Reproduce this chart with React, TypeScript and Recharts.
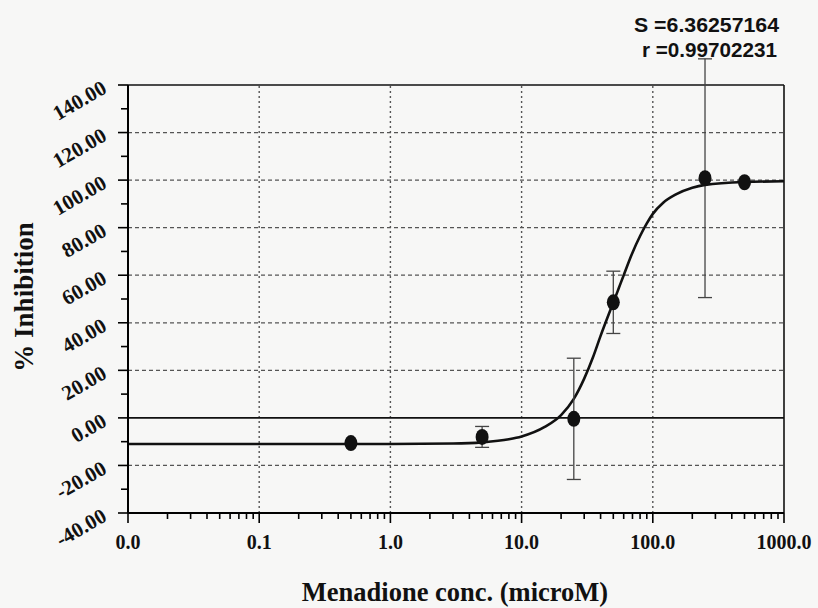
import React from 'react';
import { ComposedChart, XAxis, YAxis, Line, Scatter, ReferenceLine } from 'recharts';

// Measured points (concentration in microM, % inhibition, +/- error)
const concentrations = [0.5, 5, 25, 50, 250, 500];
const inhibition = [-10.6, -8.0, -0.4, 48.6, 100.8, 99.1];
const inhibitionErr = [0, 4.4, 25.5, 13.1, 50.2, 0];

// Fitted curve
const curveConc = [0.01, 0.1, 1, 3, 5, 8, 10, 15, 20, 25, 30, 35, 40, 45, 50, 55, 60, 70, 80, 90, 100, 120, 150, 200, 250, 500, 1000];
const curveInhibition = [-11, -11, -11, -10.8, -10.3, -9, -7.8, -3.8, 1.2, 8, 16.5, 25.5, 34.5, 42, 48.5, 54.5, 60, 69.5, 76.5, 81.8, 85.8, 90.5, 94, 96.8, 98, 99.2, 99.5];

// Axis ticks
const xMajorTicks = [0.01, 0.1, 1, 10, 100, 1000];
const xTickLabels = ['0.0', '0.1', '1.0', '10.0', '100.0', '1000.0'];
const xMinorMultipliers = [2, 3, 4, 5, 6, 7, 8, 9];
const xGridTicks = [0.1, 1, 10, 100];
const yMajorTicks = [-40, -20, 0, 20, 40, 60, 80, 100, 120, 140];
const yMinorTicks = [-30, -10, 10, 30, 50, 70, 90, 110, 130];
const yGridTicks = [-20, 20, 40, 60, 80, 100, 120];

const statS = 'S =6.36257164';
const statR = 'r =0.99702231';

const points = concentrations.map((x, i) => ({ x, y: inhibition[i], err: inhibitionErr[i] }));
const curve = curveConc.map((x, i) => ({ x, y: curveInhibition[i] }));
const xMinorTicks = xMajorTicks.slice(0, -1).flatMap((d) => xMinorMultipliers.map((m) => d * m));
const xTicks = [...xMajorTicks, ...xMinorTicks].sort((a, b) => a - b);
const yTicks = [...yMajorTicks, ...yMinorTicks].sort((a, b) => a - b);

const SERIF = '"Liberation Serif", "Times New Roman", serif';
const SANS = '"Liberation Sans", Arial, sans-serif';

const XTick = (props: any) => {
  const { x, y, payload } = props;
  const idx = xMajorTicks.indexOf(payload.value);
  const major = idx >= 0;
  return (
    <g>
      <line x1={x} x2={x} y1={y} y2={y + (major ? 10 : 6)} stroke="#000" strokeWidth={1.6} />
      {major && (
        <text x={x} y={y + 36} textAnchor="middle" fontFamily={SERIF} fontWeight="bold" fontSize={20} fill="#111">
          {xTickLabels[idx]}
        </text>
      )}
    </g>
  );
};

const YTick = (props: any) => {
  const { x, y, payload } = props;
  const v = payload.value;
  const major = yMajorTicks.indexOf(v) >= 0;
  const tx = x - 20;
  const ty = y + 7;
  return (
    <g>
      <line x1={x} x2={x - (major ? 10 : 7)} y1={y} y2={y} stroke="#000" strokeWidth={1.6} />
      {major && (
        <text
          x={tx}
          y={ty}
          textAnchor="end"
          transform={`rotate(-30, ${tx}, ${ty})`}
          fontFamily={SERIF}
          fontWeight="bold"
          fontSize={21}
          fill="#111"
        >
          {v.toFixed(2)}
        </text>
      )}
    </g>
  );
};

const ErrorBarShape = (props: any) => {
  const { x1, y1, x2, y2 } = props;
  return (
    <g>
      <line x1={x1} y1={y1} x2={x2} y2={y2} stroke="#444" strokeWidth={1.3} />
      <line x1={x1 - 7} x2={x1 + 7} y1={y1} y2={y1} stroke="#444" strokeWidth={1.3} />
      <line x1={x2 - 7} x2={x2 + 7} y1={y2} y2={y2} stroke="#444" strokeWidth={1.3} />
    </g>
  );
};

const Dot = (props: any) => {
  const { cx, cy } = props;
  return <ellipse cx={cx} cy={cy} rx={6.5} ry={8} fill="#111" />;
};

export default function App() {
  return (
    <div style={{ position: 'absolute', left: 0, top: 0, width: 818, height: 608, background: '#f7f7f6' }}>
      <ComposedChart width={818} height={608} margin={{ top: 85, right: 34, bottom: 35, left: 0 }}>
        <XAxis
          dataKey="x"
          type="number"
          scale="log"
          domain={[0.01, 1000]}
          allowDataOverflow
          ticks={xTicks}
          interval={0}
          tickLine={false}
          tickSize={0}
          tickMargin={0}
          tick={(p: any) => <XTick {...p} />}
          axisLine={{ stroke: '#000', strokeWidth: 2 }}
          height={60}
        />
        <YAxis
          type="number"
          domain={[-40, 140]}
          allowDataOverflow
          ticks={yTicks}
          interval={0}
          tickLine={false}
          tickSize={0}
          tickMargin={0}
          tick={(p: any) => <YTick {...p} />}
          axisLine={{ stroke: '#000', strokeWidth: 2 }}
          width={128}
        />
        {yGridTicks.map((v) => (
          <ReferenceLine key={'hy' + v} y={v} stroke="#555" strokeWidth={1.2} strokeDasharray="4 3" />
        ))}
        {xGridTicks.map((v) => (
          <ReferenceLine key={'vx' + v} x={v} stroke="#555" strokeWidth={1.4} strokeDasharray="2 3" />
        ))}
        <ReferenceLine y={0} stroke="#111" strokeWidth={1.8} />
        <ReferenceLine y={140} stroke="#111" strokeWidth={1.6} />
        <ReferenceLine x={1000} stroke="#111" strokeWidth={1.6} />
        <Line
          data={curve}
          dataKey="y"
          type="monotone"
          dot={false}
          stroke="#111"
          strokeWidth={2.6}
          isAnimationActive={false}
        />
        {points
          .filter((p) => p.err > 0)
          .map((p) => (
            <ReferenceLine
              key={'eb' + p.x}
              segment={[
                { x: p.x, y: p.y - p.err },
                { x: p.x, y: p.y + p.err },
              ]}
              ifOverflow="visible"
              shape={ErrorBarShape}
            />
          ))}
        <Scatter data={points} dataKey="y" shape={Dot} isAnimationActive={false} />
      </ComposedChart>
      <svg width={818} height={608} style={{ position: 'absolute', left: 0, top: 0, pointerEvents: 'none' }}>
        <text
          x={634}
          y={32}
          fontFamily={SANS}
          fontWeight="bold"
          fontSize={20}
          textLength={145}
          lengthAdjust="spacingAndGlyphs"
          fill="#111"
        >
          {statS}
        </text>
        <text
          x={642}
          y={57}
          fontFamily={SANS}
          fontWeight="bold"
          fontSize={20}
          textLength={135}
          lengthAdjust="spacingAndGlyphs"
          fill="#111"
        >
          {statR}
        </text>
        <text
          x={33}
          y={297}
          transform="rotate(-90, 33, 297)"
          textAnchor="middle"
          fontFamily={SERIF}
          fontWeight="bold"
          fontSize={27}
          fill="#111"
        >
          % Inhibition
        </text>
        <text x={455} y={601} textAnchor="middle" fontFamily={SERIF} fontWeight="bold" fontSize={26.5} fill="#111">
          Menadione conc. (microM)
        </text>
      </svg>
    </div>
  );
}
